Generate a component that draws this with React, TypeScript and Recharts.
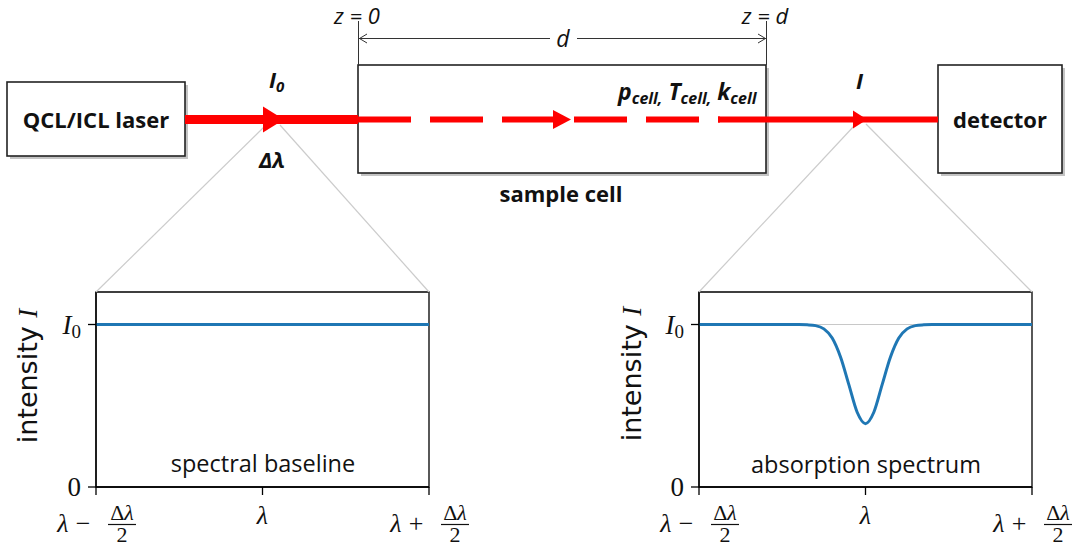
import { LineChart, Line, XAxis, YAxis, ReferenceLine, ReferenceArea } from "recharts";

// wavelength axis runs from λ-Δλ/2 (-1) to λ+Δλ/2 (1), intensity in units of I0
const wavelengthTicks = [-1, 0, 1];
const intensityTicks = [0, 1];

const baselineX = [-1, -0.5, 0, 0.5, 1];
const baselineI = [1, 1, 1, 1, 1];

const absorptionX = [-1, -0.4, -0.35, -0.3, -0.25, -0.2, -0.15, -0.1, -0.05, 0, 0.05, 0.1, 0.15, 0.2, 0.25, 0.3, 0.35, 0.4, 1];
const absorptionI = [1, 1, 0.998, 0.993, 0.973, 0.917, 0.8, 0.63, 0.46, 0.39, 0.46, 0.63, 0.8, 0.917, 0.973, 0.993, 0.998, 1, 1];

const blue = "#1f77b4";
const red = "#ff0000";
const serif = "'Liberation Serif', 'DejaVu Serif', serif";
const sans = "'DejaVu Sans', sans-serif";
const calibri = "'Open Sans', sans-serif";

function XTick(props: any) {
  const { x, y, payload } = props;
  const v = payload.value;
  const base = y - 10; // axis line position in chart coordinates
  if (v === 0) {
    return (
      <text x={x} y={base + 37} textAnchor="middle" fontFamily={serif} fontStyle="italic" fontSize={26} fill="#111">
        λ
      </text>
    );
  }
  const op = v < 0 ? "−" : "+";
  return (
    <g fill="#111" fontFamily={serif}>
      <text x={x - 33} y={base + 45} textAnchor="middle" fontStyle="italic" fontSize={26}>λ</text>
      <text x={x - 13} y={base + 45} textAnchor="middle" fontSize={26}>{op}</text>
      <text x={x + 26} y={base + 33} textAnchor="middle" fontSize={22}>
        Δ<tspan fontStyle="italic">λ</tspan>
      </text>
      <line x1={x + 12} x2={x + 40} y1={base + 37.5} y2={base + 37.5} stroke="#111" strokeWidth={1.2} />
      <text x={x + 26} y={base + 55} textAnchor="middle" fontSize={22}>2</text>
    </g>
  );
}

function YTick(props: any) {
  const { x, y, payload } = props;
  if (payload.value === 0) {
    return (
      <text x={x} y={y + 9} textAnchor="end" fontFamily={serif} fontSize={27} fill="#111">0</text>
    );
  }
  return (
    <text x={x} y={y + 9} textAnchor="end" fontFamily={serif} fontSize={27} fill="#111">
      <tspan fontStyle="italic">I</tspan>
      <tspan fontSize={19} dy={4}>0</tspan>
    </text>
  );
}

interface SpectrumProps {
  xs: number[];
  ys: number[];
  left: number;
  width: number;
  showLevel: boolean;
}

function Spectrum({ xs, ys, left, width, showLevel }: SpectrumProps) {
  const data = xs.map((x, i) => ({ x, intensity: ys[i] }));
  return (
    <div style={{ position: "absolute", left, top: 270 }}>
      <LineChart width={width} height={276} data={data} margin={{ top: 22, right: width - 429, bottom: 0, left: 0 }}>
        <XAxis
          dataKey="x"
          type="number"
          domain={[-1, 1]}
          ticks={wavelengthTicks}
          height={59}
          tickSize={8}
          tickMargin={2}
          axisLine={{ stroke: "#000", strokeWidth: 1.3 }}
          tickLine={{ stroke: "#000", strokeWidth: 1.3 }}
          tick={XTick}
          interval={0}
        />
        <YAxis
          type="number"
          domain={[0, 1.2]}
          ticks={intensityTicks}
          width={96}
          tickSize={8}
          tickMargin={7}
          axisLine={{ stroke: "#000", strokeWidth: 1.3 }}
          tickLine={{ stroke: "#000", strokeWidth: 1.3 }}
          tick={YTick}
          interval={0}
        />
        {showLevel && <ReferenceLine y={1} stroke="#c8c8c8" strokeWidth={1} />}
        <Line
          dataKey="intensity"
          type="monotone"
          stroke={blue}
          strokeWidth={3}
          dot={false}
          isAnimationActive={false}
        />
        <ReferenceArea x1={-1} x2={1} y1={0} y2={1.2} fill="none" stroke="#000" strokeWidth={1.3} />
      </LineChart>
    </div>
  );
}

function Box({ x, y, w, h }: { x: number; y: number; w: number; h: number }) {
  return (
    <g>
      <rect x={x + 3} y={y + 3} width={w} height={h} fill="#c4c4c4" />
      <rect x={x} y={y} width={w} height={h} fill="#fff" stroke="#222" strokeWidth={1.6} />
    </g>
  );
}

function Diagram() {
  return (
    <svg width={1073} height={546} style={{ position: "absolute", left: 0, top: 0, pointerEvents: "none" }}>
      {/* zoom lines towards the spectra */}
      <g stroke="#cccccc" strokeWidth={1.2}>
        <line x1={266} y1={125} x2={96} y2={292} />
        <line x1={280} y1={125} x2={429} y2={292} />
        <line x1={854} y1={126} x2={699} y2={292} />
        <line x1={866} y1={124} x2={1032} y2={292} />
      </g>

      <Box x={7} y={82} w={178} h={74} />
      <Box x={358} y={65} w={408} h={108} />
      <Box x={938} y={65} w={124} h={108} />

      {/* beam */}
      <line x1={185} y1={119.5} x2={358} y2={119.5} stroke={red} strokeWidth={9} />
      <line x1={358} y1={119.5} x2={720} y2={119.5} stroke={red} strokeWidth={6} strokeDasharray="53 19" />
      <line x1={718} y1={119.5} x2={938} y2={119.5} stroke={red} strokeWidth={6} />
      <polygon points="263,106.5 284,119.5 263,132.5" fill={red} />
      <polygon points="553,110 571,119.5 553,129" fill={red} />
      <polygon points="853,110.5 867,119.5 853,128.5" fill={red} />

      {/* cell length */}
      <g stroke="#333" strokeWidth={1} fill="none">
        <line x1={358.5} y1={21} x2={358.5} y2={65} />
        <line x1={766.5} y1={21} x2={766.5} y2={65} />
        <line x1={359} y1={38.5} x2={550} y2={38.5} />
        <line x1={577} y1={38.5} x2={766} y2={38.5} />
        <polyline points="367,34 359.5,38.5 367,43" />
        <polyline points="758,34 765.5,38.5 758,43" />
      </g>

      <g fontFamily={calibri} fill="#111">
        <text x={357} y={24} textAnchor="middle" fontStyle="italic" fontSize={22}>z = 0</text>
        <text x={765} y={24} textAnchor="middle" fontStyle="italic" fontSize={22}>z = d</text>
        <text x={563} y={47} textAnchor="middle" fontStyle="italic" fontSize={23}>d</text>

        <text x={96} y={128} textAnchor="middle" fontWeight="bold" fontSize={22}>QCL/ICL laser</text>
        <text x={1000} y={128} textAnchor="middle" fontWeight="bold" fontSize={22}>detector</text>
        <text x={561} y={202} textAnchor="middle" fontWeight="bold" fontSize={22}>sample cell</text>

        <text x={269} y={88} fontWeight="bold" fontStyle="italic" fontSize={22}>
          I<tspan fontSize={15} dy={4}>0</tspan>
        </text>
        <text x={856} y={89} fontWeight="bold" fontStyle="italic" fontSize={22}>I</text>
        <text x={272} y={168} textAnchor="middle" fontWeight="bold" fontStyle="italic" fontSize={22}>Δλ</text>

        <text x={618} y={100} fontWeight="bold" fontStyle="italic" fontSize={23}>
          p<tspan fontSize={16} dy={4}>cell,</tspan>
          <tspan dy={-4}> T</tspan>
          <tspan fontSize={16} dy={4}>cell,</tspan>
          <tspan dy={-4}> k</tspan>
          <tspan fontSize={16} dy={4}>cell</tspan>
        </text>

        <text x={263} y={472} textAnchor="middle" fontSize={23.5}>spectral baseline</text>
        <text x={866} y={473} textAnchor="middle" fontSize={23.5}>absorption spectrum</text>
      </g>

      <g fontFamily={sans} fontSize={27} fill="#111">
        <text x={37} y={376} textAnchor="middle" transform="rotate(-90 37 376)">
          intensity <tspan fontFamily={serif} fontStyle="italic">I</tspan>
        </text>
        <text x={641} y={374} textAnchor="middle" transform="rotate(-90 641 374)">
          intensity <tspan fontFamily={serif} fontStyle="italic">I</tspan>
        </text>
      </g>
    </svg>
  );
}

export default function App() {
  return (
    <div style={{ position: "absolute", left: 0, top: 0, width: 1073, height: 546, background: "#fff", overflow: "hidden" }}>
      <Spectrum xs={baselineX} ys={baselineI} left={0} width={480} showLevel={false} />
      <Spectrum xs={absorptionX} ys={absorptionI} left={603} width={470} showLevel={true} />
      <Diagram />
    </div>
  );
}
